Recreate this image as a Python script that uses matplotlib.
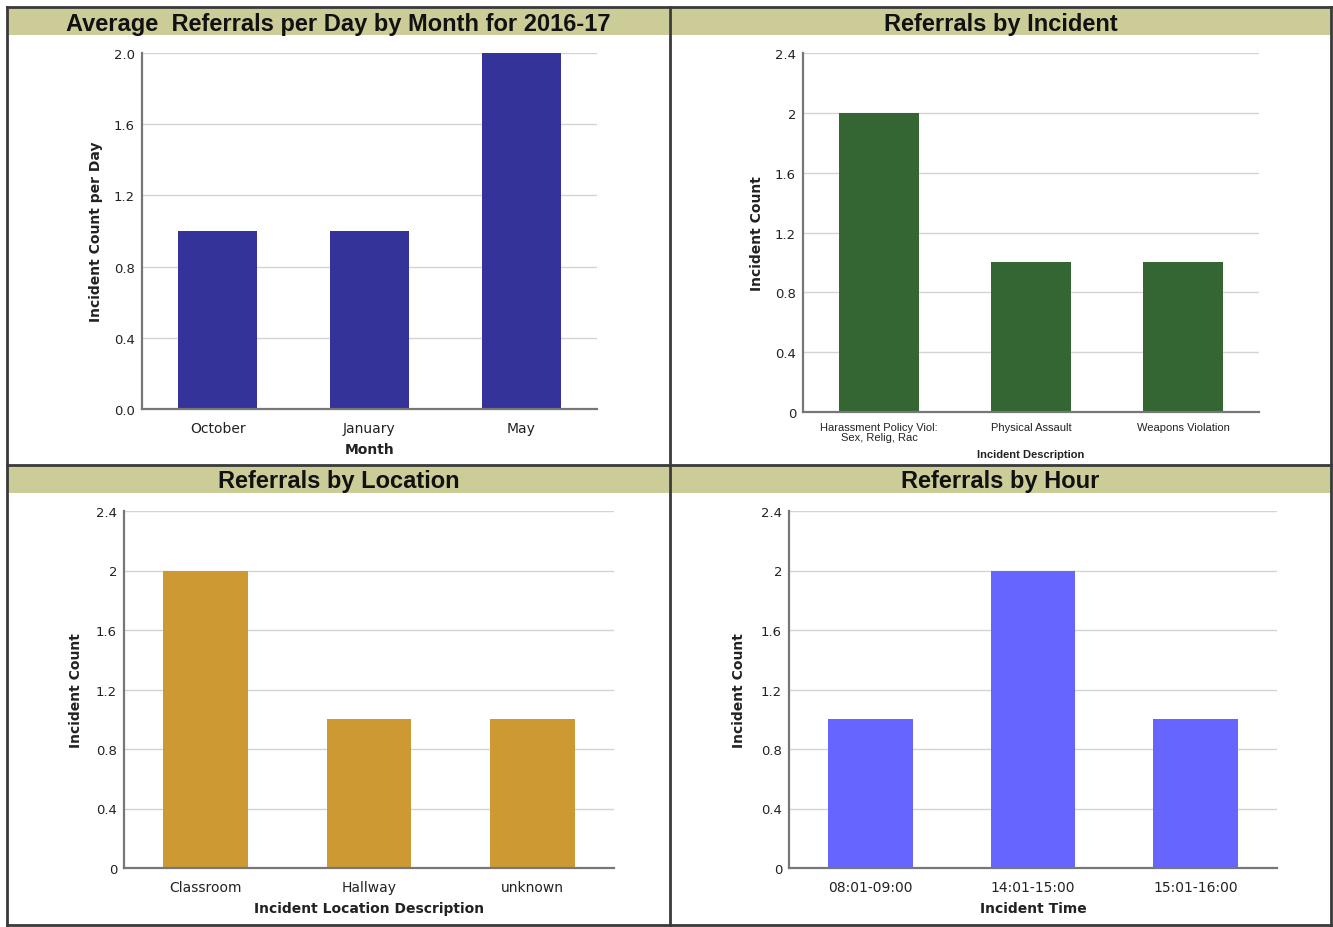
import matplotlib.pyplot as plt
from matplotlib.patches import Rectangle
from matplotlib.lines import Line2D

# Dados de cada painel
meses = ['October', 'January', 'May']
media_por_dia = [1.0, 1.0, 2.0]

incidentes = ['Harassment Policy Viol:\nSex, Relig, Rac', 'Physical Assault', 'Weapons Violation']
contagem_incidente = [2, 1, 1]

locais = ['Classroom', 'Hallway', 'unknown']
contagem_local = [2, 1, 1]

horas = ['08:01-09:00', '14:01-15:00', '15:01-16:00']
contagem_hora = [1, 2, 1]

ticks_mes = [0.0, 0.4, 0.8, 1.2, 1.6, 2.0]
rotulos_mes = ['0.0', '0.4', '0.8', '1.2', '1.6', '2.0']
ticks_contagem = [0, 0.4, 0.8, 1.2, 1.6, 2, 2.4]
rotulos_contagem = ['0', '0.4', '0.8', '1.2', '1.6', '2', '2.4']

W, H = 1333, 928
fig = plt.figure(figsize=(W / 100, H / 100), dpi=100)


def eixo(x0, x1, y0, y1):
    # caixa em pixels (y medido do topo)
    return fig.add_axes([x0 / W, (H - y1) / H, (x1 - x0) / W, (y1 - y0) / H])


def painel(ax, cats, vals, cor, ticks, rotulos, ylabel, xlabel, cat_size, cat_font,
           ylab_x, xlab_y, xpad):
    ax.set_axisbelow(True)
    ax.bar(range(len(cats)), vals, width=0.52, color=cor, zorder=2)
    ax.set_xlim(-0.5, len(cats) - 0.5)
    ax.set_ylim(ticks[0], ticks[-1])
    ax.set_yticks(ticks)
    ax.set_yticklabels(rotulos, fontsize=9.5, color='#222222', family='DejaVu Sans')
    ax.set_xticks(range(len(cats)))
    ax.set_xticklabels(cats, fontsize=cat_size, color='#222222', family=cat_font,
                       linespacing=1.0)
    ax.tick_params(axis='both', length=0)
    ax.tick_params(axis='y', pad=5)
    ax.tick_params(axis='x', pad=xpad)
    ax.grid(axis='y', color='#d4d4d4', linewidth=1)
    for s in ['top', 'right']:
        ax.spines[s].set_visible(False)
    for s in ['left', 'bottom']:
        ax.spines[s].set_color('#777777')
        ax.spines[s].set_linewidth(1.6)
    ax.set_ylabel(ylabel, fontsize=10, fontweight='bold', color='#222222')
    ax.set_xlabel(xlabel, fontsize=cat_size if cat_size < 9 else 10,
                  fontweight='bold', color='#222222', family=cat_font)
    ax.yaxis.set_label_coords(ylab_x, 0.5)
    ax.xaxis.set_label_coords(0.5, xlab_y)


ax1 = eixo(142, 597, 54, 410)
painel(ax1, meses, media_por_dia, '#333399', ticks_mes, rotulos_mes,
       'Incident Count per Day', 'Month', 10, 'DejaVu Sans', -0.085, -0.092, 9)

ax2 = eixo(803, 1259, 54, 413)
painel(ax2, incidentes, contagem_incidente, '#336633', ticks_contagem, rotulos_contagem,
       'Incident Count', 'Incident Description', 8, 'Liberation Sans', -0.085, -0.104, 7)

ax3 = eixo(124, 614, 512, 869)
painel(ax3, locais, contagem_local, '#CC9933', ticks_contagem, rotulos_contagem,
       'Incident Count', 'Incident Location Description', 10, 'DejaVu Sans', -0.084, -0.092, 9)

ax4 = eixo(789, 1277, 512, 869)
painel(ax4, horas, contagem_hora, '#6666FF', ticks_contagem, rotulos_contagem,
       'Incident Count', 'Incident Time', 10, 'DejaVu Sans', -0.088, -0.092, 9)

# Faixas de título
titulos = [
    ('Average  Referrals per Day by Month for 2016-17', 8, 669, 9, 36),
    ('Referrals by Incident', 670, 1331, 9, 36),
    ('Referrals by Location', 8, 669, 467, 494),
    ('Referrals by Hour', 670, 1331, 467, 494),
]
for txt, x0, x1, y0, y1 in titulos:
    fig.patches.append(Rectangle((x0 / W, (H - y1) / H), (x1 - x0) / W, (y1 - y0) / H,
                                 transform=fig.transFigure, facecolor='#CCCC99',
                                 edgecolor='none', zorder=0))
    fig.text((x0 + x1) / 2 / W, (H - (y0 + y1) / 2 - 1.5) / H, txt, ha='center', va='center',
             fontsize=17, fontweight='bold', family='Liberation Sans', color='#111111')

# Bordas dos painéis
cor_borda = '#3a3a3a'
for x in [7.5, 669.5, 1331]:
    fig.lines.append(Line2D([x / W, x / W], [(H - 926) / H, (H - 8) / H],
                            transform=fig.transFigure, color=cor_borda, lw=2))
for y in [8, 465.5, 926]:
    fig.lines.append(Line2D([7.5 / W, 1331 / W], [(H - y) / H, (H - y) / H],
                            transform=fig.transFigure, color=cor_borda, lw=2))

fig.savefig('out.png', dpi=100)
